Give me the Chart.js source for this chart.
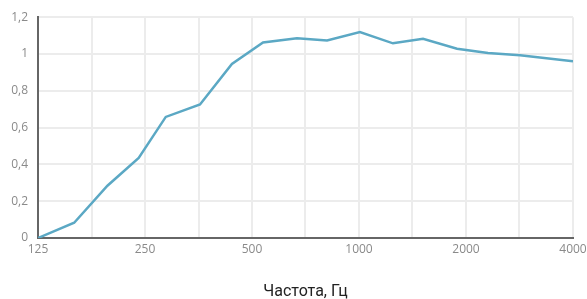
<!DOCTYPE html>
<html>
<head>
<meta charset="utf-8">
<script src="https://cdn.jsdelivr.net/npm/chart.js@4"></script>
<style>
  html, body { margin: 0; padding: 0; background: #fff; }
  #wrap { width: 587px; height: 299px; }
</style>
</head>
<body>
<div id="wrap"><canvas id="chart"></canvas></div>
<script>
const frequencies = [125, 158, 196, 240, 286, 357, 439, 537, 669, 813, 1006, 1246, 1514, 1887, 2306, 2838, 4000];
const absorption = [0, 0.083, 0.284, 0.435, 0.658, 0.726, 0.946, 1.063, 1.086, 1.074, 1.119, 1.058, 1.083, 1.029, 1.005, 0.993, 0.96];

// grid positions (half octaves) and the labels shown under them
const gridFreqs = [125, 177, 250, 354, 500, 707, 1000, 1414, 2000, 2828, 4000];
const gridLabels = ['125', '', '250', '', '500', '', '1000', '', '2000', '', '4000'];

const yTicks = [0, 0.2, 0.4, 0.6, 0.8, 1, 1.2];

const points = frequencies.map((f, i) => ({ x: f, y: absorption[i] }));

new Chart(document.getElementById('chart'), {
  type: 'line',
  data: {
    datasets: [
      {
        data: points,
        borderColor: '#5ba8c4',
        borderWidth: 2.5,
        pointRadius: 0,
        tension: 0,
        fill: false,
      },
    ],
  },
  options: {
    responsive: true,
    maintainAspectRatio: false,
    animation: false,
    layout: { padding: { top: 10, right: 0, left: 0, bottom: 0 } },
    plugins: {
      legend: { display: false },
      tooltip: { enabled: false },
    },
    scales: {
      x: {
        type: 'logarithmic',
        min: 125,
        max: 4000,
        afterBuildTicks: (axis) => {
          axis.ticks = gridFreqs.map((v) => ({ value: v }));
        },
        afterFit: (axis) => {
          axis.height = 61;
          axis.paddingRight = 14;
        },
        grid: { color: '#ececec', lineWidth: 2, drawTicks: false },
        border: { color: '#666', width: 2 },
        ticks: {
          autoSkip: false,
          maxRotation: 0,
          padding: 4,
          color: '#8a8a8a',
          font: { family: 'Open Sans', size: 12 },
          callback: (value, index) => gridLabels[index],
        },
        title: {
          display: true,
          text: 'Частота, Гц',
          color: '#222',
          font: { family: 'Roboto', size: 16 },
          padding: { top: 30, bottom: -3 },
        },
      },
      y: {
        min: 0,
        max: 1.2,
        afterBuildTicks: (axis) => {
          axis.ticks = yTicks.map((v) => ({ value: v }));
        },
        afterFit: (axis) => {
          axis.width = 38;
        },
        grid: { color: '#ececec', lineWidth: 2, drawTicks: false },
        border: { color: '#666', width: 2 },
        ticks: {
          padding: 10,
          color: '#8a8a8a',
          font: { family: 'Open Sans', size: 12 },
          callback: (value) => String(Math.round(value * 10) / 10).replace('.', ','),
        },
      },
    },
  },
});
</script>
</body>
</html>
